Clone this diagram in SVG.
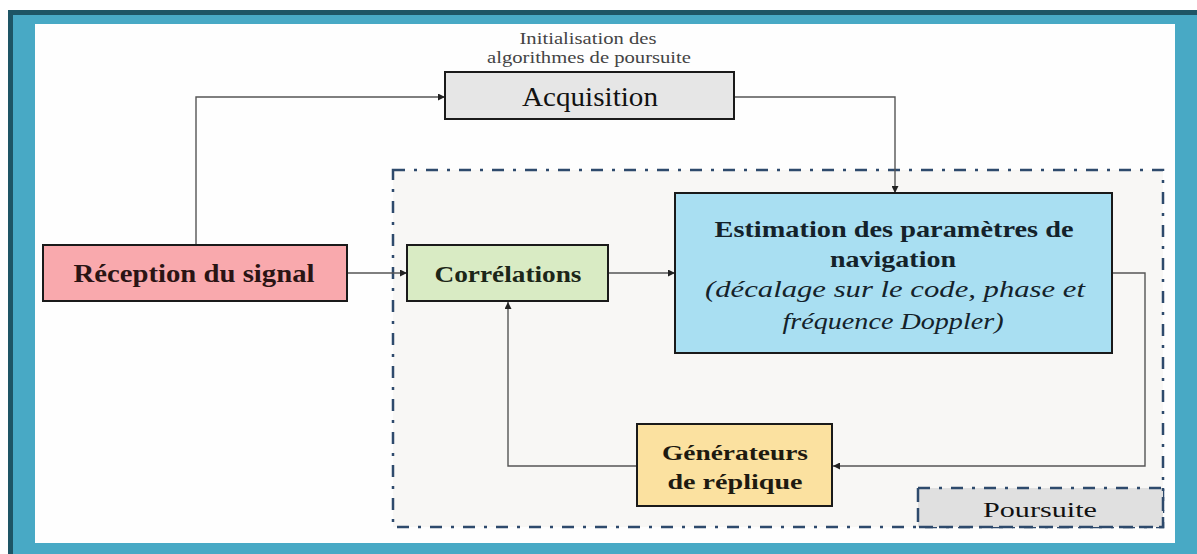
<svg xmlns="http://www.w3.org/2000/svg" width="1197" height="554" viewBox="0 0 1197 554" font-family="'Liberation Serif', 'Times New Roman', serif">
<defs>
<marker id="arr" viewBox="0 0 10 10" refX="10" refY="5" markerWidth="7" markerHeight="7" markerUnits="userSpaceOnUse" orient="auto">
<path d="M0,0 L10,5 L0,10 z" fill="#222"/>
</marker>
<style>
.box{stroke:#1a1a1a;stroke-width:2}
.t{font-family:'Liberation Serif','Times New Roman',serif;text-anchor:middle;fill:#111}
.b{font-weight:bold}
.i{font-style:italic}
.ln{fill:none;stroke:#555;stroke-width:1.4}
.dd{fill:none;stroke:#2e4a6c;stroke-width:2.5;stroke-dasharray:12 9 3 9}
.dl{fill:none;stroke:#2e4a6c;stroke-width:2.5;stroke-dasharray:14 6}
</style>
</defs>
<rect x="0" y="0" width="1197" height="554" fill="#ffffff"/>
<g id="frame">
<rect x="8" y="10" width="1189" height="544" fill="#1e5565"/>
<rect x="13" y="15" width="1184" height="539" fill="#48a9c5"/>
<rect x="35" y="24" width="1140" height="519" fill="#fefefe"/>
</g>
<g id="poursuite-region">
<rect x="393" y="170" width="770" height="357" fill="#f8f7f5" stroke="none"/>
<rect x="393" y="170" width="770" height="357" class="dd"/>
</g>
<g id="poursuite-label">
<rect x="918" y="488" width="245" height="39" fill="#e0e0e0"/>
<path class="dd" d="M918,488 H1163"/>
<path class="dl" d="M918,488 V527 H1163 V488"/>
<text class="t" x="1040" y="517" font-size="22" textLength="114" lengthAdjust="spacingAndGlyphs">Poursuite</text>
</g>
<g id="connectors">
<polyline class="ln" points="196,245 196,97 445,97" marker-end="url(#arr)"/>
<polyline class="ln" points="734,97 895,97 895,193" marker-end="url(#arr)"/>
<polyline class="ln" points="347,273 407,273" marker-end="url(#arr)"/>
<polyline class="ln" points="608,273 675,273" marker-end="url(#arr)"/>
<polyline class="ln" points="1112,273 1145,273 1145,466 833,466" marker-end="url(#arr)"/>
<polyline class="ln" points="637,466 508,466 508,302" marker-end="url(#arr)"/>
</g>
<g id="init-label">
<text class="t" x="588" y="44" font-size="17" style="fill:#444" textLength="137" lengthAdjust="spacingAndGlyphs">Initialisation des</text>
<text class="t" x="589" y="63" font-size="17" style="fill:#444" textLength="204" lengthAdjust="spacingAndGlyphs">algorithmes de poursuite</text>
</g>
<g id="acquisition">
<rect class="box" x="445" y="72" width="289" height="47" fill="#e6e6e6"/>
<text class="t" x="590" y="106" font-size="27" textLength="136" lengthAdjust="spacingAndGlyphs">Acquisition</text>
</g>
<g id="reception">
<rect class="box" x="43" y="245" width="304" height="56" fill="#f9a9ad"/>
<text class="t b" x="194" y="282" font-size="25" style="fill:#2a1414" textLength="241" lengthAdjust="spacingAndGlyphs">Réception du signal</text>
</g>
<g id="correlations">
<rect class="box" x="407" y="245" width="201" height="56" fill="#d9ebc4"/>
<text class="t b" x="508" y="282" font-size="24" style="fill:#1c2618" textLength="147" lengthAdjust="spacingAndGlyphs">Corrélations</text>
</g>
<g id="estimation">
<rect class="box" x="675" y="193" width="437" height="160" fill="#a9dff2"/>
<text class="t b" x="894" y="237" font-size="23" style="fill:#14222a" textLength="359" lengthAdjust="spacingAndGlyphs">Estimation des paramètres de</text>
<text class="t b" x="893" y="267" font-size="23" style="fill:#14222a" textLength="126" lengthAdjust="spacingAndGlyphs">navigation</text>
<text class="t i" x="895" y="297" font-size="23" style="fill:#14222a" textLength="380" lengthAdjust="spacingAndGlyphs">(décalage sur le code, phase et</text>
<text class="t i" x="893" y="329" font-size="23" style="fill:#14222a" textLength="221" lengthAdjust="spacingAndGlyphs">fréquence Doppler)</text>
</g>
<g id="generateurs">
<rect class="box" x="637" y="424" width="195" height="82" fill="#fbe1a0"/>
<text class="t b" x="735" y="460" font-size="22" style="fill:#1e1a10" textLength="146" lengthAdjust="spacingAndGlyphs">Générateurs</text>
<text class="t b" x="735" y="489" font-size="22" style="fill:#1e1a10" textLength="135" lengthAdjust="spacingAndGlyphs">de réplique</text>
</g>
</svg>
